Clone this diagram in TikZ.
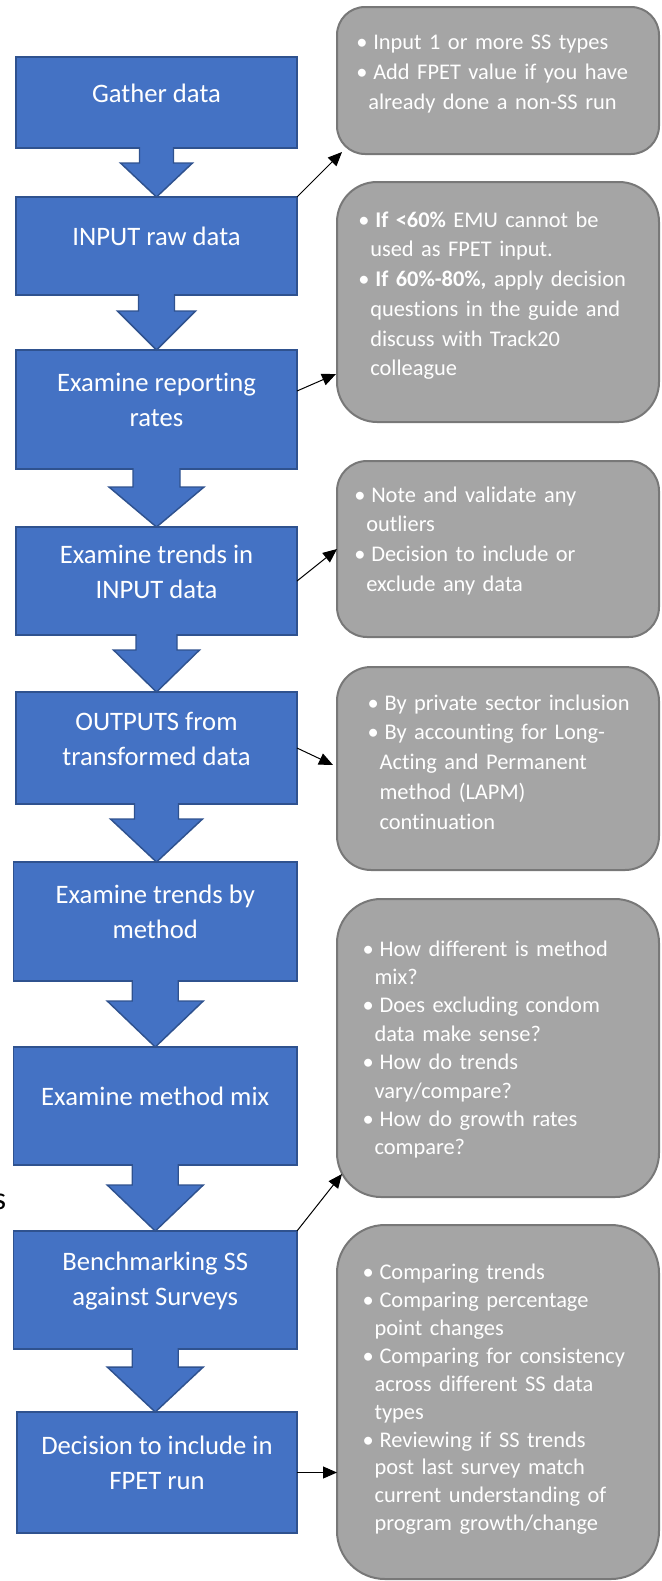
\documentclass[tikz,border=0pt]{standalone}
\usepackage{fontspec}
\setmainfont{Carlito}[Ligatures=NoCommon]
\usetikzlibrary{arrows.meta, calc}

\definecolor{stepblue}{HTML}{4472C4}
\definecolor{stepedge}{HTML}{2F528F}
\definecolor{notegray}{HTML}{A5A5A5}
\definecolor{noteedge}{HTML}{787878}

% one bullet line of a note, later lines hang under the text
\newcommand{\bitem}[1]{\noindent\hangindent=9pt\hangafter=1\makebox[12.75pt][l]{\textbullet}#1\par}

% wide down arrow between two steps: stem half width, head half width, head length
\newcommand{\flowarrow}[5]{%
	\draw[
		blockarrow
	] ($(#1.south)+(-#3,-1)$) |- ($(#1.south |- #2.north)+(-#4,-#5)$)
		-- (#1.south |- #2.north)
		-- ($(#1.south |- #2.north)+(#4,-#5)$)
		-| ($(#1.south)+(#3,-1)$);%
}

\tikzset{
	stepbox/.style={draw=stepedge, fill=stepblue, line width=1.1pt, outer sep=0pt, inner sep=0pt},
	steptext/.style={text=white, font=\fontsize{20}{26.25}\selectfont, align=center, inner sep=0pt, yshift=7pt},
	notebox/.style={draw=noteedge, fill=notegray, line width=1.5pt, outer sep=0pt, minimum width=241.5pt},
	notetext/.style={text=white, anchor=north west, inner sep=0pt, text width=217.5pt},
	blockarrow/.style={draw=stepedge, fill=stepblue, line width=1.1pt},
	link/.style={-{Triangle[length=10.5pt, width=9pt]}, line width=0.75pt}
}

\begin{document}
\begin{tikzpicture}[x=0.75pt, y=-0.75pt]
	\useasboundingbox (0,0) rectangle (661,1581);

	% notes on the right
	\node[
		notebox,
		minimum height=110.25pt,
		rounded corners=21pt
	] (note1) at (498,80.5) {};
	\node[
		notebox,
		minimum height=180pt,
		rounded corners=30pt
	] (note2) at (498,302) {};
	\node[
		notebox,
		minimum height=132pt,
		rounded corners=22.5pt
	] (note3) at (498,549) {};
	\node[
		notebox,
		minimum height=152.25pt,
		rounded corners=25.5pt
	] (note4) at (498,768.5) {};
	\node[
		notebox,
		minimum height=223.5pt,
		rounded corners=33pt
	] (note5) at (498,1048) {};
	\node[
		notebox,
		minimum height=265.5pt,
		rounded corners=36pt
	] (note6) at (498,1402) {};

	\node[
		notetext,
		font=\fontsize{16.8}{22.3}\selectfont
	] (note1-text) at (356,35) {\bitem{Input 1 or more SS types}\bitem{Add FPET value if you have\newline already done a non-SS run}};
	\node[
		notetext,
		font=\fontsize{16.8}{22.3}\selectfont
	] (note2-text) at (358,211.3) {\bitem{\textbf{If <60\%} EMU cannot be\newline used as FPET input.}\bitem{\textbf{If 60\%-80\%,} apply decision\newline questions in the guide and\newline discuss with Track20\newline colleague}};
	\node[
		notetext,
		font=\fontsize{16.8}{22.3}\selectfont
	] (note3-text) at (354,486.3) {\bitem{Note and validate any\newline outliers}\bitem{Decision to include or\newline exclude any data}};
	\node[
		notetext,
		font=\fontsize{16.8}{22.3}\selectfont
	] (note4-text) at (367.3,694.3) {\bitem{By private sector inclusion}\bitem{By accounting for Long-\newline Acting and Permanent\newline method (LAPM)\newline continuation}};
	\node[
		notetext,
		font=\fontsize{16.8}{21.3}\selectfont
	] (note5-text) at (362.3,940.3) {\bitem{How different is method\newline mix?}\bitem{Does excluding condom\newline data make sense?}\bitem{How do trends\newline vary/compare?}\bitem{How do growth rates\newline compare?}};
	\node[
		notetext,
		font=\fontsize{16.8}{20.9}\selectfont
	] (note6-text) at (362.3,1264) {\bitem{Comparing trends}\bitem{Comparing percentage\newline point changes}\bitem{Comparing for consistency\newline across different SS data\newline types}\bitem{Reviewing if SS trends\newline post last survey match\newline current understanding of\newline program growth/change}};

	% steps on the left
	\node[
		stepbox,
		minimum width=210.75pt,
		minimum height=68.25pt,
		label={[steptext]center:Gather data}
	] (gather) at (156.5,102.5) {};
	\node[
		stepbox,
		minimum width=210.75pt,
		minimum height=73.5pt,
		label={[steptext]center:INPUT raw data}
	] (input) at (156.5,246) {};
	\node[
		stepbox,
		minimum width=210.75pt,
		minimum height=89.25pt,
		label={[steptext]center:Examine reporting\\rates}
	] (reporting) at (156.5,409.5) {};
	\node[
		stepbox,
		minimum width=210.75pt,
		minimum height=81pt,
		label={[steptext]center:Examine trends in\\INPUT data}
	] (trendsin) at (156.5,581) {};
	\node[
		stepbox,
		minimum width=210.75pt,
		minimum height=84pt,
		label={[steptext]center:OUTPUTS from\\transformed data}
	] (outputs) at (156.5,748) {};
	\node[
		stepbox,
		minimum width=212.6pt,
		minimum height=89.25pt,
		label={[steptext]center:Examine trends by\\method}
	] (bymethod) at (155.25,921.5) {};
	\node[
		stepbox,
		minimum width=212.6pt,
		minimum height=88.5pt,
		label={[steptext]center:Examine method mix}
	] (mix) at (155.25,1106) {};
	\node[
		stepbox,
		minimum width=212.6pt,
		minimum height=88.5pt,
		label={[steptext]center:Benchmarking SS\\against Surveys}
	] (bench) at (155.25,1290) {};
	\node[
		stepbox,
		minimum width=210pt,
		minimum height=90.75pt,
		label={[steptext]center:Decision to include in\\FPET run}
	] (decision) at (157,1472.5) {};

	\flowarrow{gather}{input}{17}{36}{34}
	\flowarrow{input}{reporting}{18}{39}{39}
	\flowarrow{reporting}{trendsin}{23.5}{47.5}{40}
	\flowarrow{trendsin}{outputs}{20.5}{43}{42}
	\flowarrow{outputs}{bymethod}{22}{46}{43}
	\flowarrow{bymethod}{mix}{23}{48}{46}
	\flowarrow{mix}{bench}{23}{48}{46}
	\flowarrow{bench}{decision}{23}{48}{45}

	% links from steps to notes
	\draw[link] (input.north east) -- ($(note1.south west)+(5,-2)$);
	\draw[link] ($(reporting.east)+(0,-18.5)$) -- ($(note2.south west)+(-1,-48)$);
	\draw[link] (trendsin.east) -- (note3.west);
	\draw[link] (outputs.east) -- ($(note4.west)+(-4,-3.5)$);
	\draw[link] (bench.north east) -- ($(note5.south west)+(5,-23)$);
	\draw[link] (decision.east) -- (decision.east -| note6.west);

	\node[
		font=\fontsize{24}{28}\selectfont,
		anchor=base east,
		inner sep=0pt
	] (stray) at (6.5,1209.3) {s};
\end{tikzpicture}
\end{document}
